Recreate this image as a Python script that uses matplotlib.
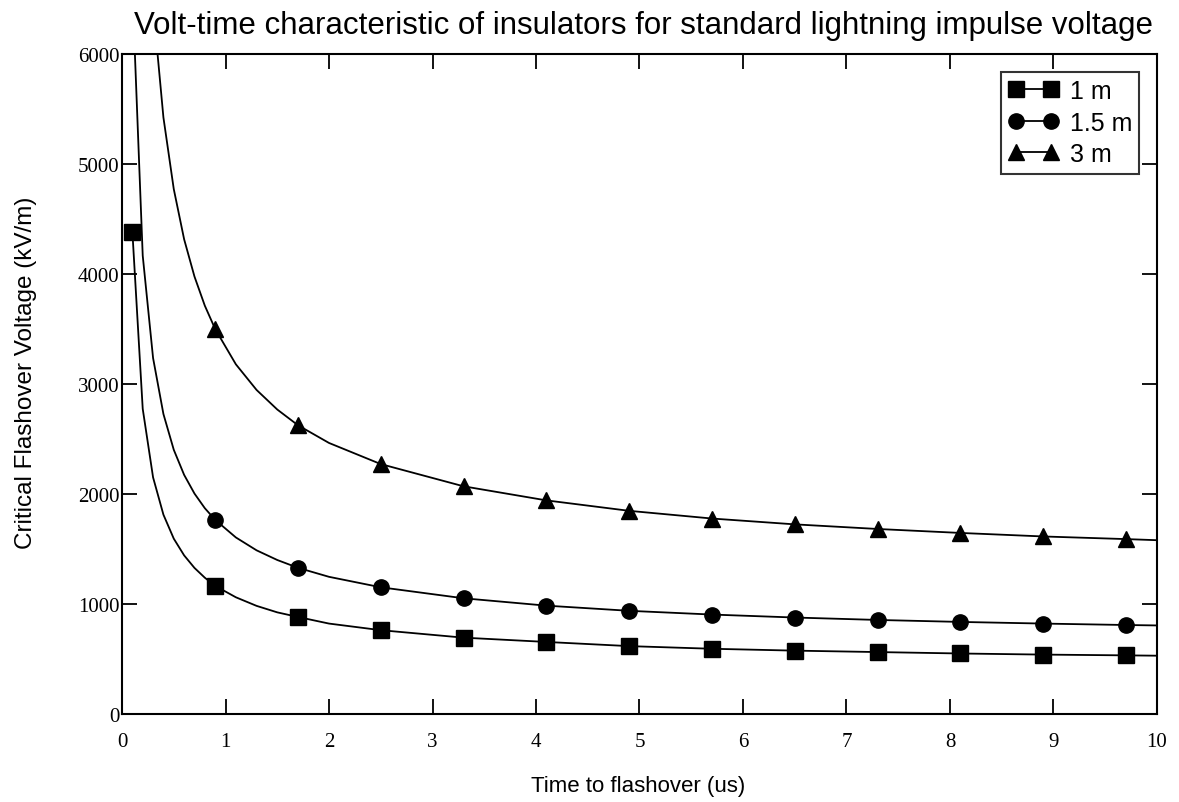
import matplotlib
matplotlib.use("Agg")
import matplotlib.pyplot as plt

# time to flashover (us); markers sit on every 8th original sample
t = [0.1, 0.2, 0.3, 0.4, 0.5, 0.6, 0.7, 0.8, 0.9, 1.1, 1.3, 1.5, 1.7, 2.0,
     2.5, 3.3, 4.1, 4.9, 5.7, 6.5, 7.3, 8.1, 8.9, 9.7, 10.0]
marker_idx = [0, 8, 12, 14, 15, 16, 17, 18, 19, 20, 21, 22, 23]

v_1m = [4385, 2774, 2151, 1812, 1594, 1442, 1328, 1239, 1165, 1061, 983, 924,
        882, 822, 762, 694, 655, 617, 593, 576, 563, 550, 540, 533, 530]
v_1_5m = [6589, 4167, 3236, 2727, 2402, 2174, 2004, 1871, 1765, 1605, 1488,
          1400, 1329, 1247, 1152, 1052, 985, 938, 904, 877, 855, 837, 822,
          809, 805]
v_3m = [13142, 8300, 6439, 5423, 4772, 4316, 3977, 3712, 3500, 3179, 2946,
        2768, 2625, 2464, 2272, 2070, 1942, 1847, 1777, 1724, 1682, 1646,
        1614, 1590, 1580]

series = [("1 m", v_1m, "s", 11.5), ("1.5 m", v_1_5m, "o", 11), ("3 m", v_3m, "^", 11.5)]

fig = plt.figure(figsize=(11.79, 8.03), dpi=100)
ax = fig.add_axes([0.1035, 0.1096, 0.8778, 0.8219])

for label, v, m, ms in series:
    ax.plot(t, v, color="black", lw=1.3, marker=m, markersize=ms,
            markevery=marker_idx, label=label)

ax.set_xlim(0, 10)
ax.set_ylim(0, 6000)
ax.set_xticks(range(0, 11))
ax.set_yticks(range(0, 6001, 1000))

for s in ax.spines.values():
    s.set_linewidth(1.5)
ax.tick_params(direction="in", length=10.5, width=1.3, top=True, right=True,
               labelsize=15)
ax.tick_params(axis="x", pad=13)
ax.tick_params(axis="y", pad=2)
for lab in ax.get_xticklabels() + ax.get_yticklabels():
    lab.set_family("Liberation Serif")

sans = "Liberation Sans"
ax.set_title("Volt-time characteristic of insulators for standard lightning impulse voltage",
             family=sans, fontsize=22.5, pad=15, x=0.504)
ax.set_xlabel("Time to flashover (us)", family=sans, fontsize=16)
ax.xaxis.set_label_coords(0.499, -0.093)
ax.set_ylabel("Critical Flashover Voltage (kV/m)", family=sans, fontsize=17.5)
ax.yaxis.set_label_coords(-0.082, 0.518)

leg = ax.legend(loc="upper right", numpoints=2,
                prop={"family": sans, "size": 18}, frameon=True,
                fancybox=False, edgecolor="black", handlelength=2.0,
                handletextpad=0.45, borderpad=0.3, labelspacing=0.3, borderaxespad=0.7)
leg.get_frame().set_linewidth(1.5)

fig.savefig("out.png", dpi=100)
